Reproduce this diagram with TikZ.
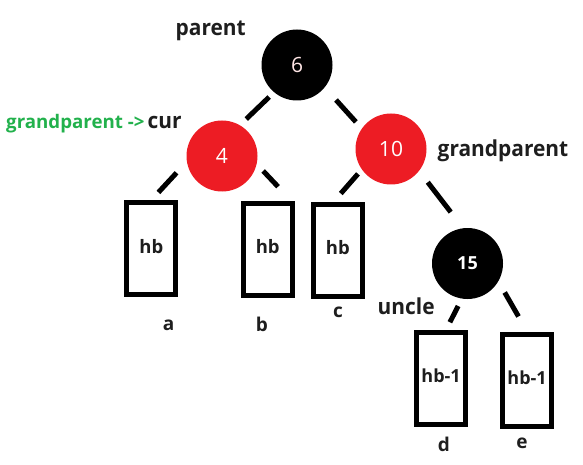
\documentclass[tikz,border=0pt]{standalone}
\usepackage{fontspec}
\setmainfont{Open Sans}
\newfontfamily\lblfont{Open Sans}[FakeStretch=0.95]
\definecolor{rbred}{RGB}{237,28,36}
\definecolor{gpgreen}{RGB}{34,177,76}
\definecolor{txt}{RGB}{30,30,30}
\definecolor{numpink}{RGB}{255,230,230}
\begin{document}
\begin{tikzpicture}[x=1pt,y=-1pt,
  rbnode/.style={circle,minimum size=71pt,inner sep=0pt,outer sep=0pt,font=\fontsize{21}{21}\selectfont},
  blk/.style={rbnode,fill=black,text=numpink},
  rd/.style={rbnode,fill=rbred,text=white},
  leaf/.style={draw=black,line width=5pt,minimum width=49pt,minimum height=92pt,inner sep=0pt,
    text height=14pt,text depth=5pt,text=txt,font=\fontsize{18.5}{18.5}\selectfont\bfseries},
  lbl/.style={inner sep=0pt,text=txt,font=\fontsize{22}{22}\lblfont\bfseries},
  small/.style={inner sep=0pt,text=txt,font=\fontsize{19}{19}\selectfont\bfseries},
  conn/.style={line width=5pt,draw=black}
]
\useasboundingbox (0,0) rectangle (583,465);
% tree nodes
\node[blk] (n6) at (297,65) {6};
\node[rd] (n4) at (222,156) {4};
\node[rd] (n10) at (391,149) {10};
\node[blk,font=\fontsize{18}{18}\selectfont\bfseries,text=white] (n15) at (467.5,263.5) {15};
% leaves
\node[leaf] (ba) at (151.3,248.6) {hb};
\node[leaf] (bb) at (267.7,249.3) {hb};
\node[leaf] (bc) at (337.8,250.3) {hb};
\node[leaf,font=\fontsize{18}{18}\selectfont\bfseries] (bd) at (441.1,378) {hb-1};
\node[leaf,font=\fontsize{18}{18}\selectfont\bfseries] (be) at (527.1,380) {hb-1};
% connectors
\draw[conn,shorten <=7pt,shorten >=9pt] (n6.230) -- (n4.60);
\draw[conn,shorten <=17pt,shorten >=9pt] (n6.321) -- (n10.145);
\draw[conn,shorten <=15.3pt,shorten >=10.5pt] (n4.189) -- (ba.north);
\draw[conn,shorten <=9.6pt,shorten >=19.4pt] (n4.347) -- (bb.64);
\draw[conn,shorten <=6pt,shorten >=11pt] (n10.215) -- (bc.95);
\draw[conn,shorten <=14.4pt,shorten >=20.4pt] (n10.322) -- (n15.97);
\draw[conn,shorten <=8.4pt,shorten >=8.1pt] (n15.261) -- (bd.84);
\draw[conn,shorten <=12.9pt,shorten >=17.3pt] (n15.330) -- (be.north);
% labels
\node[lbl,anchor=base] (tparent) at (210.7,36) {parent};
\node[small,anchor=base west,text=gpgreen,font=\fontsize{18.7}{18.7}\selectfont\bfseries] (tgp1) at (6,128.5) {grandparent ->};
\node[lbl,anchor=base west] (tcur) at (147.5,128.5) {cur};
\node[lbl,anchor=base west] (tgp2) at (437.5,156.7) {grandparent};
\node[lbl,anchor=base west] (tuncle) at (377.5,314) {uncle};
\node[small,anchor=base] (ta) at (168.5,330) {a};
\node[small,anchor=base] (tb) at (262,331) {b};
\node[small,anchor=base] (tc) at (338,317) {c};
\node[small,anchor=base] (td) at (444,451) {d};
\node[small,anchor=base] (te) at (522,448) {e};
\end{tikzpicture}
\end{document}
